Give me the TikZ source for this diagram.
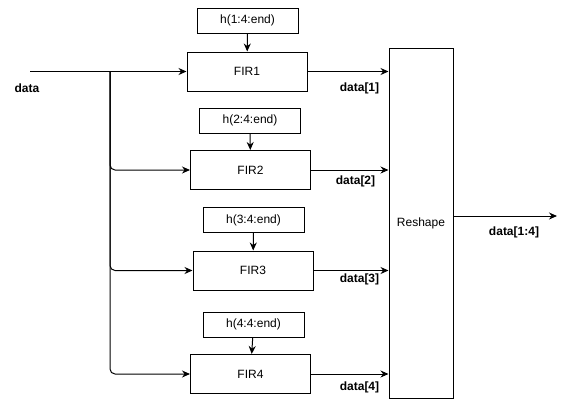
\documentclass[tikz,border=0pt]{standalone}
\usepackage{fontspec}
\setmainfont{Liberation Sans}
\usetikzlibrary{arrows.meta,positioning}
\tikzset{
  >={Stealth[length=8pt,width=7pt]},
  every node/.style={font=\fontsize{12}{14}\selectfont,inner sep=0pt},
  firbox/.style={draw,line width=1pt,minimum width=120pt,minimum height=39pt},
  coefbox/.style={draw,line width=1pt,minimum width=101pt,minimum height=25pt},
  wire/.style={line width=1pt},
  arrow/.style={->,line width=1pt},
  branch/.style={->,line width=1pt,rounded corners=5pt},
  sig/.style={font=\fontsize{12}{14}\selectfont\bfseries},
}
\begin{document}
\begin{tikzpicture}[x=1pt,y=-1pt]
  \useasboundingbox (0,0) rectangle (566,416);

  % filters and their coefficient inputs
  \node[firbox] (fir1) at (247,71.5) {FIR1};
  \node[firbox] (fir2) at (250.5,170) {FIR2};
  \node[firbox] (fir3) at (253,270.5) {FIR3};
  \node[firbox] (fir4) at (250.5,374) {FIR4};
  \node[coefbox] (h1) at (247.5,20.5) {h(1:4:end)};
  \node[coefbox] (h2) at (250,120.5) {h(2:4:end)};
  \node[coefbox] (h3) at (253.5,220) {h(3:4:end)};
  \node[coefbox] (h4) at (253.5,324.5) {h(4:4:end)};
  \node[draw,line width=1pt,minimum width=64pt,minimum height=350pt] (reshape) at (421,223) {Reshape};

  % input splitting
  \coordinate (in) at (30,71.5);
  \coordinate (split) at (110,71.5);
  \draw[wire] (in) -- (split);
  \draw[arrow] (split) -- (fir1);
  \foreach \k in {2,3,4}
    \draw[branch] (split) |- (fir\k);
  \foreach \k in {1,2,3,4}
    \draw[arrow] (h\k) -- (fir\k);
  \foreach \k in {1,2,3,4}
    \draw[arrow] (fir\k.east) -- (fir\k.east -| reshape.west);

  % output
  \coordinate (out) at (557,216);
  \draw[arrow] (reshape.east |- out) -- (out);

  \node[sig] (lin) at (27,88) {data};
  \node[sig] (l1) at (359.5,88) {data[1]};
  \node[sig] (l2) at (355.5,181) {data[2]};
  \node[sig] (l3) at (359.5,279) {data[3]};
  \node[sig] (l4) at (359.5,387) {data[4]};
  \node[sig] (lout) at (514,232) {data[1:4]};
\end{tikzpicture}
\end{document}
